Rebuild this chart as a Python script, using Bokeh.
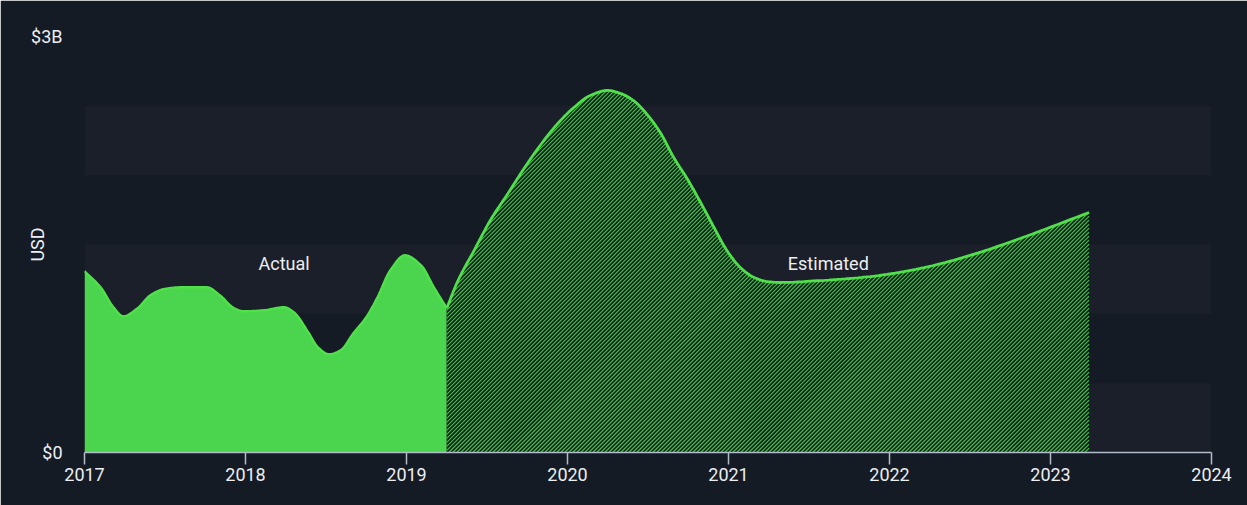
import numpy as np
from bokeh.plotting import figure
from bokeh.models import Range1d, FixedTicker, Label
from bokeh.embed import file_html
from bokeh.resources import INLINE

# ---- data (values in USD billions) ----
actual_year = [2017.00, 2017.10, 2017.18, 2017.24, 2017.33, 2017.41, 2017.49, 2017.60,
               2017.76, 2017.84, 2017.93, 2017.99, 2018.11, 2018.24, 2018.30, 2018.39,
               2018.45, 2018.52, 2018.59, 2018.67, 2018.75, 2018.82, 2018.90, 2018.99,
               2019.09, 2019.17, 2019.25]
actual_value = [1.307, 1.191, 1.047, 0.982, 1.040, 1.134, 1.177, 1.191,
                1.191, 1.134, 1.040, 1.018, 1.025, 1.047, 1.011, 0.866,
                0.758, 0.708, 0.736, 0.859, 0.975, 1.119, 1.314, 1.422,
                1.350, 1.191, 1.040]

est_year = [2019.25, 2019.32, 2019.42, 2019.52, 2019.63, 2019.73, 2019.83, 2019.94,
            2020.04, 2020.14, 2020.25, 2020.33, 2020.41, 2020.50, 2020.58, 2020.66,
            2020.75, 2020.83, 2020.91, 2020.99, 2021.08, 2021.16, 2021.24, 2021.32,
            2021.57, 2021.88, 2022.19, 2022.50, 2022.81, 2023.24]
est_value = [1.040, 1.240, 1.457, 1.673, 1.868, 2.048, 2.214, 2.373,
             2.488, 2.574, 2.611, 2.589, 2.538, 2.430, 2.300, 2.127,
             1.962, 1.796, 1.623, 1.457, 1.327, 1.262, 1.233, 1.226,
             1.240, 1.269, 1.327, 1.421, 1.543, 1.731]

x_ticks = [2017, 2018, 2019, 2020, 2021, 2022, 2023, 2024]
y_ticks = [0, 3]
y_tick_labels = {0: "$0", 3: "$3B"}
band_bottoms = [0, 1, 2]
band_tops = [0.5, 1.5, 2.5]

BG = "#151b25"
BAND = "#1a1f29"
GREEN = "#4bd44d"
HATCH = "#46c748"
LINE = "#4fe04a"
TXT = "#eceef2"
AXIS = "#b3bccb"
FONT = "Roboto"

W, H = 1247, 505
BL, BR, BT, BB = 84, 36, 36, 53
X0, X1, Y0, Y1 = 2017, 2024, 0, 3
px_per_x = (W - BL - BR) / (X1 - X0)
px_per_y = (H - BT - BB) / (Y1 - Y0)


def smooth(xs, ys, n=12):
    """Monotone cubic (Fritsch-Carlson) path through the read points, for drawing."""
    x = np.asarray(xs, float); y = np.asarray(ys, float)
    h = np.diff(x); d = np.diff(y) / h
    m = np.zeros_like(y)
    m[0], m[-1] = d[0], d[-1]
    for i in range(1, len(x) - 1):
        if d[i - 1] * d[i] <= 0:
            m[i] = 0
        else:
            w1 = 2 * h[i] + h[i - 1]; w2 = h[i] + 2 * h[i - 1]
            m[i] = (w1 + w2) / (w1 / d[i - 1] + w2 / d[i])
    ox, oy = [], []
    for i in range(len(x) - 1):
        t = np.linspace(0, 1, n, endpoint=(i == len(x) - 2))
        h00 = 2 * t**3 - 3 * t**2 + 1; h10 = t**3 - 2 * t**2 + t
        h01 = -2 * t**3 + 3 * t**2; h11 = t**3 - t**2
        ox.extend(x[i] + t * h[i])
        oy.extend(h00 * y[i] + h10 * h[i] * m[i] + h01 * y[i + 1] + h11 * h[i] * m[i + 1])
    return np.array(ox), np.array(oy)


ax, ay = smooth(actual_year, actual_value)
ex, ey = smooth(est_year, est_value)

# hatch lines (45 degrees on screen, 4px horizontal period) clipped to estimated area
k = px_per_x / px_per_y
step = 4 / px_per_x
hx, hy = [], []
xmin, xmax = ex[0], ex[-1]
x0 = xmin - ey.max() / k
while x0 < xmax:
    xs = np.arange(max(x0, xmin), xmax, 0.0015)
    if len(xs) > 1:
        yl = k * (xs - x0)
        fy = np.interp(xs, ex, ey)
        inside = (yl <= fy) & (yl >= 0)
        idx = np.flatnonzero(np.diff(np.concatenate(([0], inside.astype(int), [0]))))
        for s, e in zip(idx[::2], idx[1::2]):
            if e - 1 > s:
                hx.append([xs[s], xs[e - 1]])
                hy.append([yl[s], yl[e - 1]])
    x0 += step

p = figure(width=W, height=H, output_backend="svg", toolbar_location=None,
           x_range=Range1d(X0, X1), y_range=Range1d(Y0, Y1),
           min_border_left=BL, min_border_right=BR, min_border_top=BT, min_border_bottom=BB)
p.background_fill_color = BG
p.border_fill_color = BG
p.outline_line_color = BG
p.outline_line_alpha = 1.0
p.outline_line_width = 1
p.grid.visible = False

# bands
p.quad(left=X0, right=X1, bottom=band_bottoms, top=band_tops,
       fill_color=BAND, line_color=None)

# actual
p.varea(x=ax, y1=0, y2=ay, fill_color=GREEN)
p.line(ax, ay, line_color=LINE, line_width=2.5)

# estimated (hatched)
p.varea(x=ex, y1=0, y2=ey, fill_color=BG)
p.multi_line(hx, hy, line_color=HATCH, line_width=1.1)
p.line(ex, ey, line_color=LINE, line_width=2.8)

# labels
p.add_layout(Label(x=2018.24, y=1.365, text="Actual", text_color=TXT,
                   text_font=FONT, text_font_size="18px",
                   text_align="center", text_baseline="middle"))
p.add_layout(Label(x=2021.62, y=1.365, text="Estimated", text_color=TXT,
                   text_font=FONT, text_font_size="18px",
                   text_align="center", text_baseline="middle"))

# x axis
xa = p.xaxis[0]
xa.ticker = FixedTicker(ticks=x_ticks)
xa.axis_line_color = AXIS
xa.axis_line_width = 1.5
xa.major_tick_line_color = AXIS
xa.major_tick_line_width = 1.5
xa.major_tick_in = 0
xa.major_tick_out = 12
xa.minor_tick_line_color = None
xa.major_label_standoff = 3
xa.major_label_text_color = TXT
xa.major_label_text_font = FONT
xa.major_label_text_font_size = "18px"

# y axis
ya = p.yaxis[0]
ya.ticker = FixedTicker(ticks=y_ticks)
ya.major_label_overrides = y_tick_labels
ya.axis_line_color = None
ya.major_tick_line_color = None
ya.minor_tick_line_color = None
ya.major_tick_in = 0
ya.major_tick_out = 0
ya.major_label_standoff = 22
ya.major_label_text_color = TXT
ya.major_label_text_font = FONT
ya.major_label_text_font_size = "18px"
ya.axis_label = "USD"
ya.axis_label_standoff = -20
ya.axis_label_text_color = TXT
ya.axis_label_text_font = FONT
ya.axis_label_text_font_style = "normal"
ya.axis_label_text_font_size = "18px"

open("out.html", "w").write(file_html(p, INLINE))
